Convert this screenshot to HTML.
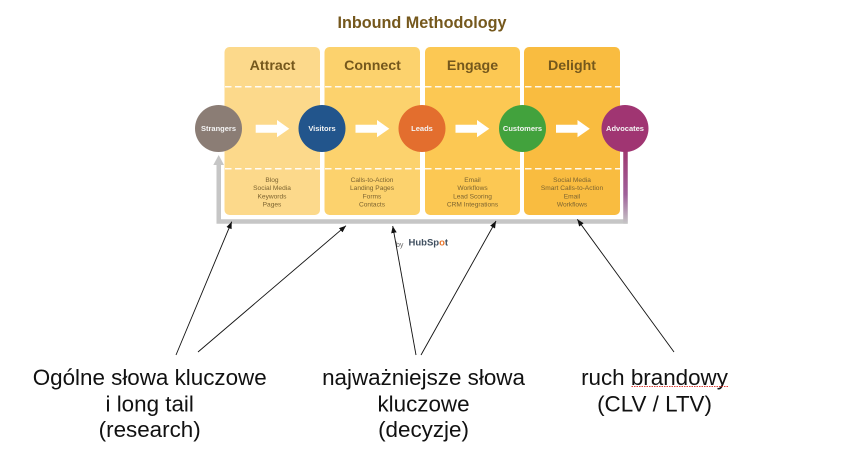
<!DOCTYPE html>
<html><head><meta charset="utf-8"><style>
html,body{margin:0;padding:0;background:#fff;width:851px;height:449px;overflow:hidden}
svg{display:block}
text{font-family:"Liberation Sans",sans-serif}
.h{font-size:14.2px;font-weight:bold;fill:#75581f;text-anchor:middle}
.s{font-size:6.6px;fill:#7d6430;text-anchor:middle}
.c{font-size:7.5px;font-weight:bold;fill:#f4f4f4;text-anchor:middle}
.b{font-size:22.4px;fill:#111;text-anchor:middle}
</style></head><body>
<svg width="851" height="449" viewBox="0 0 851 449" xmlns="http://www.w3.org/2000/svg">
<defs>
<linearGradient id="g" x1="0" y1="0" x2="0" y2="1"><stop offset="0" stop-color="#a0376f"/><stop offset="0.6" stop-color="#a0609a"/><stop offset="1" stop-color="#c6c6c6"/></linearGradient>
<marker id="a" markerWidth="8" markerHeight="7" refX="7" refY="3" orient="auto" markerUnits="userSpaceOnUse"><path d="M0,0.2L7,3L0,5.800Z" fill="#111"/></marker>
<filter id="bl" x="-2%" y="-2%" width="104%" height="104%"><feGaussianBlur stdDeviation="0.35"/></filter>
</defs>
<g filter="url(#bl)">
<text x="422" y="28" text-anchor="middle" style="font-size:16.2px;font-weight:bold;fill:#75581f">Inbound Methodology</text>
<rect x="224.500" y="47" width="95.500" height="168" rx="5" fill="#fcd98b"/>
<rect x="324.500" y="47" width="95.500" height="168" rx="5" fill="#fcd26d"/>
<rect x="425" y="47" width="95" height="168" rx="5" fill="#fcc853"/>
<rect x="524" y="47" width="96" height="168" rx="5" fill="#f9bc3f"/>
<path d="M216.500 165H221V219.300H623.300V150H627.700V223.700H216.500Z" fill="#c6c6c6"/>
<rect x="623.300" y="150" width="4.400" height="73.700" fill="url(#g)"/>
<path d="M218.700 155L213.300 165H224Z" fill="#c6c6c6"/>
<path d="M225 86.700H620M225 168.800H620" stroke="#fff" stroke-width="1.500" stroke-dasharray="6.500 3.500" fill="none" opacity="0.9"/>
<g fill="#fff">
<path d="M255.700 124.700H277V120L289.300 128.700L277 137.300V132.700H255.700Z"/>
<path d="M355.500 124.700H377V120L389.300 128.700L377 137.300V132.700H355.500Z"/>
<path d="M455.500 124.700H477V120L489.300 128.700L477 137.300V132.700H455.500Z"/>
<path d="M556 124.700H577.500V120L589.800 128.700L577.500 137.300V132.700H556Z"/>
</g>
<circle cx="218.500" cy="128.500" r="23.500" fill="#8b7d75"/>
<circle cx="322" cy="128.500" r="23.500" fill="#20558c"/>
<circle cx="422" cy="128.500" r="23.500" fill="#e36e2e"/>
<circle cx="522.500" cy="128.500" r="23.500" fill="#43a23e"/>
<circle cx="625" cy="128.500" r="23.500" fill="#a03672"/>
<text class="c" x="218.500" y="131">Strangers</text>
<text class="c" x="322" y="131">Visitors</text>
<text class="c" x="422" y="131">Leads</text>
<text class="c" x="522.500" y="131">Customers</text>
<text class="c" x="625" y="131">Advocates</text>
<text class="h" x="272.500" y="70">Attract</text>
<text class="h" x="372.500" y="70">Connect</text>
<text class="h" x="472.500" y="70">Engage</text>
<text class="h" x="572" y="70">Delight</text>
<text class="s" x="272" y="182">Blog</text><text class="s" x="272" y="190">Social Media</text><text class="s" x="272" y="198.500">Keywords</text><text class="s" x="272" y="206.500">Pages</text>
<text class="s" x="372" y="182">Calls-to-Action</text><text class="s" x="372" y="190">Landing Pages</text><text class="s" x="372" y="198.500">Forms</text><text class="s" x="372" y="206.500">Contacts</text>
<text class="s" x="472.500" y="182">Email</text><text class="s" x="472.500" y="190">Workflows</text><text class="s" x="472.500" y="198.500">Lead Scoring</text><text class="s" x="472.500" y="206.500">CRM Integrations</text>
<text class="s" x="572" y="182">Social Media</text><text class="s" x="572" y="190">Smart Calls-to-Action</text><text class="s" x="572" y="198.500">Email</text><text class="s" x="572" y="206.500">Workflows</text>
<text x="396" y="247" style="font-size:7px;fill:#666">by</text>
<text x="408.500" y="245.500" style="font-size:9.500px;font-weight:bold;fill:#3f4f5f">HubSp<tspan fill="#e8762d">o</tspan>t</text>
</g>
<g stroke="#111" stroke-width="0.900" fill="none" marker-end="url(#a)">
<path d="M176 355L231.700 221.700"/>
<path d="M198 352L346 225.700"/>
<path d="M416 355L392.700 226"/>
<path d="M421 355L496 221"/>
<path d="M674 352L577.300 219.300"/>
</g>
<text class="b" x="149.700" y="385">Ogólne słowa kluczowe</text>
<text class="b" x="149.700" y="411.500">i long tail</text>
<text class="b" x="149.700" y="437">(research)</text>
<text class="b" x="423.500" y="385">najważniejsze słowa</text>
<text class="b" x="423.500" y="411.500">kluczowe</text>
<text class="b" x="423.500" y="437">(decyzje)</text>
<text class="b" x="654.500" y="385">ruch brandowy</text>
<text class="b" x="654.500" y="411.500">(CLV / LTV)</text>
<path d="M631.500 386.500H728" stroke="#e0403a" stroke-width="1" stroke-dasharray="1.500 1" fill="none"/>
</svg>
</body></html>
